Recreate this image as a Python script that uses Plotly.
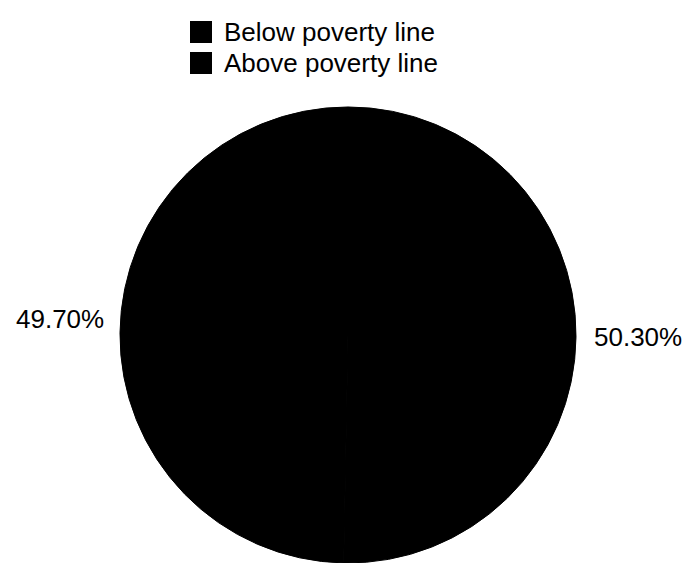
import plotly.graph_objects as go

labels = ["Below poverty line", "Above poverty line"]
values = [50.30, 49.70]
colors = ["#000000", "#000000"]

FONT = "Liberation Sans, Arial, Helvetica, sans-serif"
W, H = 696, 563

fig = go.Figure()
fig.add_trace(go.Pie(
    labels=labels,
    values=values,
    sort=False,
    direction="clockwise",
    rotation=0,
    textinfo="none",
    hoverinfo="label+percent",
    showlegend=False,
    marker=dict(colors=colors, line=dict(width=1, color="#000000")),
    domain=dict(x=[0, 1], y=[0, 0.81]),
))

# outside percentage labels (pixel positions from top-left)
label_pos = [(592, 337, "left"), (106, 319, "right")]
for v, (px, py, anchor) in zip(values, label_pos):
    fig.add_annotation(
        x=px / W, y=1 - py / H, xref="paper", yref="paper",
        text=f"{v:.2f}%", showarrow=False, xanchor=anchor, yanchor="middle",
        font=dict(family=FONT, size=26, color="#000000"),
    )

# legend: square swatches + labels
legend_rows = [32, 63]
for lab, col, cy in zip(labels, colors, legend_rows):
    fig.add_shape(
        type="rect", xref="paper", yref="paper",
        x0=190 / W, x1=212 / W, y0=1 - (cy - 11) / H, y1=1 - (cy + 11) / H,
        fillcolor=col, line=dict(width=0),
    )
    fig.add_annotation(
        x=222 / W, y=1 - cy / H, xref="paper", yref="paper",
        text=lab, showarrow=False, xanchor="left", yanchor="middle",
        font=dict(family=FONT, size=26, color="#000000"),
    )

fig.update_layout(
    width=W, height=H,
    margin=dict(l=0, r=0, t=0, b=0),
    paper_bgcolor="white",
    plot_bgcolor="white",
    font=dict(family=FONT, color="#000000"),
    showlegend=False,
)

fig.write_html("out.html")
